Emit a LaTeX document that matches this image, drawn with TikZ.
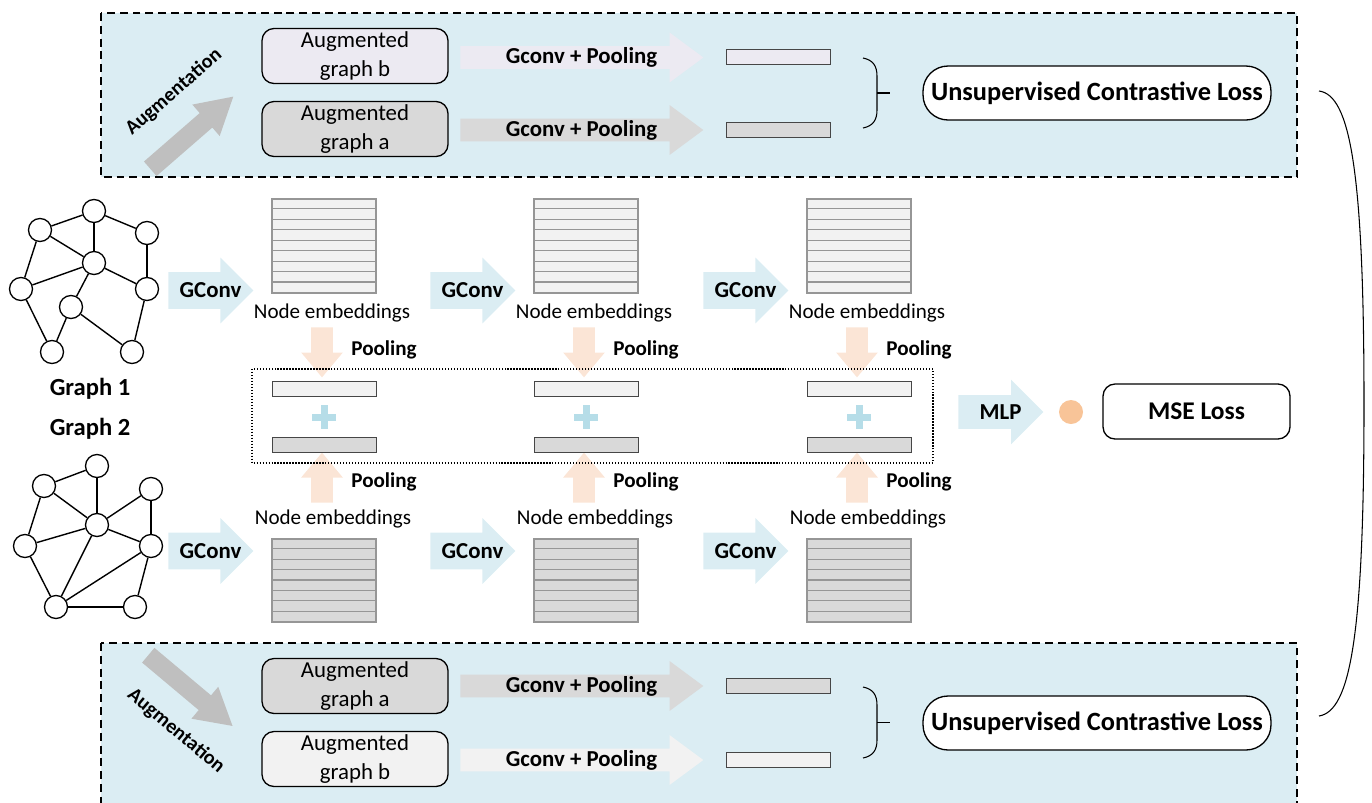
\documentclass[tikz,border=0pt]{standalone}
\usepackage{fontspec}
\setmainfont{Carlito}
\usepackage{xcolor}
\usepackage{tikz}
\usetikzlibrary{positioning, shapes, arrows}

\definecolor{panelblue}{RGB}{219,237,243}
\definecolor{lavender}{RGB}{236,234,242}
\definecolor{midgray}{RGB}{217,217,217}
\definecolor{lightgray}{RGB}{242,242,242}
\definecolor{augray}{RGB}{191,191,191}
\definecolor{peach}{RGB}{251,229,214}
\definecolor{plusblue}{RGB}{182,221,232}
\definecolor{dotorange}{RGB}{248,196,152}
\definecolor{rowgray}{RGB}{150,150,150}
\definecolor{edgegray}{RGB}{70,70,70}

\begin{document}
\begin{tikzpicture}[
    x=0.02cm, y=-0.02cm,
    panel/.style={draw, dash pattern=on 4.5pt off 2.8pt, fill=panelblue, line width=0.6pt},
    augbox/.style={rectangle, draw, rounded corners=0.24cm, minimum width=3.72cm, minimum height=1.1cm, align=center, inner sep=0pt, line width=0.75pt, font=\fontsize{13}{16}\selectfont},
    vec/.style={rectangle, draw=edgegray, line width=0.55pt, minimum width=2.08cm, minimum height=0.3cm, inner sep=0pt},
    emb/.style={rectangle, draw=rowgray, line width=0.6pt, minimum width=2.08cm, inner sep=0pt},
    lossbox/.style={rectangle, draw, fill=white, rounded corners=0.5cm, minimum width=6.96cm, minimum height=1.08cm, line width=0.75pt, font=\bfseries\fontsize{15}{18}\selectfont},
    cparrow/.style={single arrow, anchor=tail, minimum height=4.86cm, inner sep=0pt, text height=0.44cm, text depth=0pt, single arrow head extend=0.27cm, single arrow tip angle=73},
    gcarrow/.style={single arrow, anchor=tail, fill=panelblue, minimum height=1.7cm, inner sep=0pt, text height=0.72cm, text depth=0pt, single arrow head extend=0.29cm, single arrow tip angle=90},
    poolarrow/.style={single arrow, anchor=tail, fill=peach, minimum height=1cm, inner sep=0pt, text height=0.42cm, text depth=0pt, single arrow head extend=0.2cm, single arrow tip angle=80},
    augarrow/.style={single arrow, anchor=tail, fill=augray, minimum height=2.2cm, inner sep=0pt, text height=0.37cm, text depth=0pt, single arrow head extend=0.225cm, single arrow tip angle=60},
    arrowtext/.style={font=\bfseries\fontsize{13}{15}\selectfont},
    gnode/.style={circle, draw, fill=white, line width=0.75pt, minimum size=0.46cm, inner sep=0pt},
    gedge/.style={line width=0.8pt},
    emblabel/.style={font=\fontsize{12}{14}\selectfont},
    poollabel/.style={font=\bfseries\fontsize{12}{14}\selectfont},
    graphlabel/.style={font=\bfseries\fontsize{14}{16}\selectfont},
    auglabel/.style={font=\bfseries\fontsize{11.5}{13}\selectfont}
]

\useasboundingbox (0,0) rectangle (1372,802);
\clip (0,0) rectangle (1372,802);

% contrastive panels
\draw[panel] (101,13) rectangle (1297,177);
\draw[panel] (101,643) rectangle (1297,840);

% top panel
\node[augarrow, rotate=41] (augT) at (150,169) {};
\node[auglabel, rotate=41] (augTlbl) at (174,92) {Augmentation};
\node[augbox, fill=lavender] (augbT) at (355,56) {Augmented\\graph b};
\node[augbox, fill=midgray] (augaT) at (355,129) {Augmented\\graph a};
\node[cparrow, fill=lavender] (cpbT) at (460,57.5) {};
\node[arrowtext] (cpbTlbl) at (581.5,57.5) {Gconv + Pooling};
\node[cparrow, fill=midgray] (cpaT) at (460,130) {};
\node[arrowtext] (cpaTlbl) at (581.5,130) {Gconv + Pooling};
\node[vec, fill=lavender] (vbT) at (778.5,57) {};
\node[vec, fill=midgray] (vaT) at (778.5,129.5) {};
\draw[line width=0.6pt] (863,58) .. controls (873,60) and (877,66) .. (877,76) -- (877,110) .. controls (877,120) and (873,126) .. (863,128);
\draw[line width=0.6pt] (877,93) -- (890,93);
\node[lossbox] (uclT) at (1097,93) {Unsupervised Contrastive Loss};

% bottom panel
\node[augarrow, rotate=-40] (augB) at (148,655) {};
\node[auglabel, rotate=-40] (augBlbl) at (176,731) {Augmentation};
\node[augbox, fill=midgray] (augaB) at (355,686) {Augmented\\graph a};
\node[augbox, fill=lightgray] (augbB) at (355,759) {Augmented\\graph b};
\node[cparrow, fill=midgray] (cpaB) at (460,686) {};
\node[arrowtext] (cpaBlbl) at (581.5,686) {Gconv + Pooling};
\node[cparrow, fill=lightgray] (cpbB) at (460,760) {};
\node[arrowtext] (cpbBlbl) at (581.5,760) {Gconv + Pooling};
\node[vec, fill=midgray] (vaB) at (778.5,686) {};
\node[vec, fill=lightgray] (vbB) at (778.5,760) {};
\draw[line width=0.6pt] (863,687) .. controls (873,689) and (877,695) .. (877,705) -- (877,740) .. controls (877,750) and (873,756) .. (863,758);
\draw[line width=0.6pt] (877,722.5) -- (890,722.5);
\node[lossbox] (uclB) at (1097,723) {Unsupervised Contrastive Loss};

% graph 1
\foreach \n/\x/\y in {a/40/230, b/94/211, c/147/233, d/94/263, e/21/289, f/147/289, g/71/307, h/52/352, i/132/352}
  \node[gnode] (g1\n) at (\x,\y) {};
\foreach \u/\v in {a/b, b/d, b/c, a/d, a/e, c/f, d/f, e/d, d/g, g/h, e/h, g/i, f/i}
  \draw[gedge] (g1\u) -- (g1\v);
\node[graphlabel] (g1lbl) at (90,389) {Graph 1};

% graph 2
\foreach \n/\x/\y in {a/97/466, b/44/486, c/151/489, d/97/525, e/25/546, f/151/546, g/56/607, h/135/607}
  \node[gnode] (g2\n) at (\x,\y) {};
\foreach \u/\v in {b/a, a/d, b/d, b/e, c/d, c/f, d/e, d/f, d/g, e/g, f/g, f/h, g/h}
  \draw[gedge] (g2\u) -- (g2\v);
\node[graphlabel] (g2lbl) at (90,429) {Graph 2};

% three GConv layers
\foreach \i/\cx/\ax in {1/324/168, 2/586/430, 3/859/703} {
  % graph 1 branch
  \node[gcarrow] (gcT\i) at (\ax,290.5) {};
  \node[arrowtext] (gcTlbl\i) at (\ax+42.5,290.5) {GConv};
  \node[emb, fill=lightgray, minimum height=1.88cm] (embT\i) at (\cx,246) {};
  \foreach \k in {1,...,8}
    \draw[rowgray, line width=0.6pt] (embT\i.north west) ++(0,\k*10.44) -- ++(104,0);
  \node[emblabel] (embTlbl\i) at (\cx+8,313) {Node embeddings};
  \node[poolarrow, rotate=-90] (poolT\i) at (\cx-2,327) {};
  \node[poollabel] (poolTlbl\i) at (\cx+60,350) {Pooling};
  % graph 2 branch
  \node[gcarrow] (gcB\i) at (\ax,551) {};
  \node[arrowtext] (gcBlbl\i) at (\ax+42.5,551) {GConv};
  \node[emb, fill=midgray, minimum height=1.66cm] (embB\i) at (\cx,580.5) {};
  \foreach \k in {1,...,7}
    \draw[rowgray, line width=0.6pt] (embB\i.north west) ++(0,\k*10.375) -- ++(104,0);
  \node[emblabel] (embBlbl\i) at (\cx+9,519) {Node embeddings};
  \node[poolarrow, rotate=90] (poolB\i) at (\cx-2,503) {};
  \node[poollabel] (poolBlbl\i) at (\cx+60,482) {Pooling};
  % pooled vectors
  \node[vec, fill=lightgray] (vecT\i) at (\cx,389) {};
  \node[vec, fill=midgray] (vecB\i) at (\cx,444.5) {};
  \coordinate (plus\i) at (\cx,417);
  \draw[plusblue, line width=0.14cm] (plus\i) ++(-12,0) -- ++(24,0);
  \draw[plusblue, line width=0.14cm] (plus\i) ++(0,-12) -- ++(0,24);
}
\draw[densely dotted, line width=0.7pt] (252,369) rectangle (933,463);

% prediction head
\node[gcarrow, text height=0.66cm, single arrow head extend=0.31cm] (mlp) at (958,412) {};
\node[arrowtext] (mlplbl) at (1000.5,412) {MLP};
\node[circle, fill=dotorange, minimum size=0.48cm, inner sep=0pt] (mlpout) at (1071,412) {};
\node[rectangle, draw, fill=white, rounded corners=0.24cm, minimum width=3.74cm, minimum height=1.1cm, line width=0.75pt, font=\bfseries\fontsize{14.5}{17}\selectfont] (mse) at (1196.5,411.5) {MSE Loss};

% link between the two contrastive losses
\coordinate (ctop) at (1319,91);
\coordinate (cbot) at (1319,716);
\draw[line width=0.6pt] (ctop) .. controls (1350,95) and (1364,170) .. (1364,404) .. controls (1364,638) and (1350,711) .. (cbot);

\end{tikzpicture}
\end{document}
